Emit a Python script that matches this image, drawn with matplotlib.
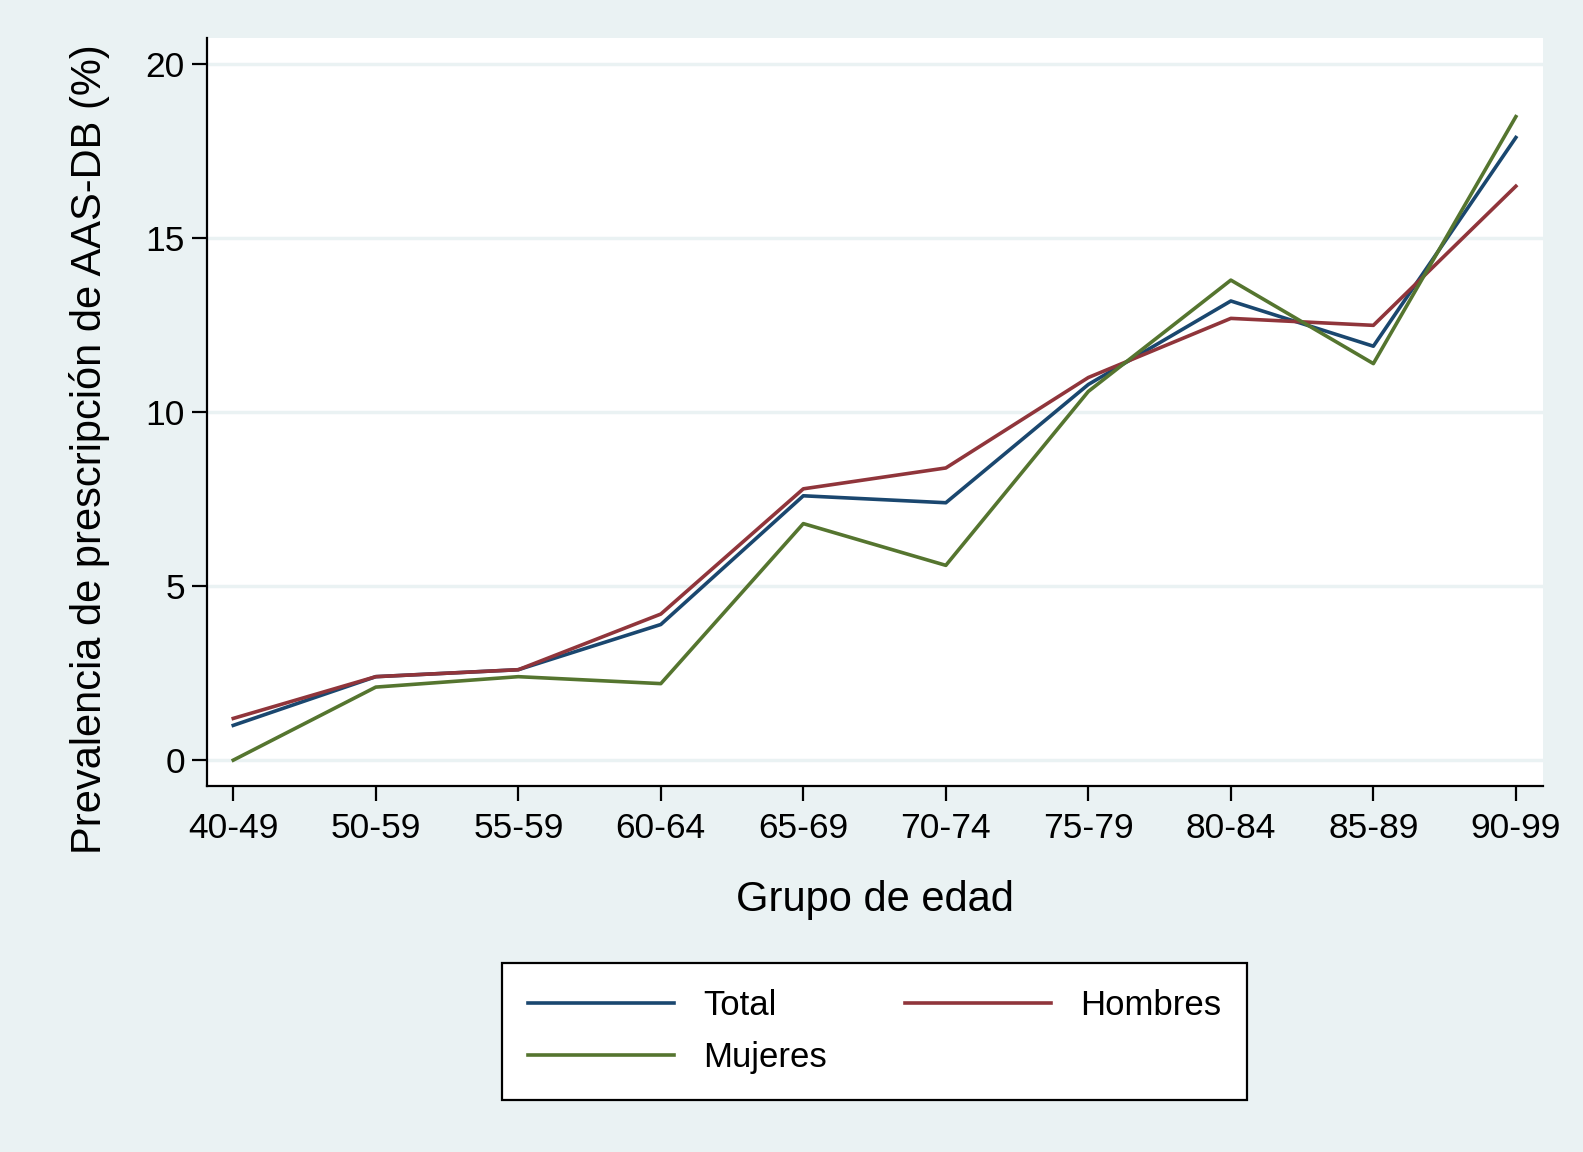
import matplotlib.pyplot as plt
import numpy as np

# datos
grupos = ["40-49", "50-59", "55-59", "60-64", "65-69", "70-74", "75-79", "80-84", "85-89", "90-99"]
total = [1.0, 2.4, 2.6, 3.9, 7.6, 7.4, 10.8, 13.2, 11.9, 17.9]
hombres = [1.2, 2.4, 2.6, 4.2, 7.8, 8.4, 11.0, 12.7, 12.5, 16.5]
mujeres = [0.0, 2.1, 2.4, 2.2, 6.8, 5.6, 10.6, 13.8, 11.4, 18.5]
yticks = [0, 5, 10, 15, 20]

bg = "#EAF2F3"
c_total = "#1A476F"
c_hombres = "#90353B"
c_mujeres = "#55752F"

plt.rcParams['font.family'] = ['Liberation Sans', 'DejaVu Sans']

fig = plt.figure(figsize=(15.83, 11.52), dpi=100, facecolor=bg)
ax = fig.add_axes([0.1308, 0.3181, 0.8439, 0.6486])
ax.set_facecolor("white")

x = np.arange(len(grupos))
l1, = ax.plot(x, total, color=c_total, lw=2.6, label="Total")
l2, = ax.plot(x, hombres, color=c_hombres, lw=2.6, label="Hombres")
l3, = ax.plot(x, mujeres, color=c_mujeres, lw=2.6, label="Mujeres")

ax.set_xlim(-0.184, 9.19)
ax.set_ylim(-0.73, 20.75)
ax.set_xticks(x)
ax.set_xticklabels(grupos)
ax.set_yticks(yticks)
ax.yaxis.grid(True, color=bg, lw=2.5)
ax.set_axisbelow(True)

for s in ["top", "right"]:
    ax.spines[s].set_visible(False)
for s in ["left", "bottom"]:
    ax.spines[s].set_linewidth(1.6)
    ax.spines[s].set_color("black")

ax.tick_params(axis="both", labelsize=25.5, length=11, width=1.6)
ax.tick_params(axis="x", pad=8)
ax.tick_params(axis="y", pad=5)

ax.set_xlabel("Grupo de edad", fontsize=30, labelpad=25)
ax.set_ylabel("Prevalencia de prescripción de AAS-DB (%)", fontsize=30)
ax.yaxis.set_label_coords(-0.0725, 0.4505)

leg = fig.legend([l1, l3, l2], ["Total", "Mujeres", "Hombres"], ncol=2,
                 loc="center", bbox_to_anchor=(0.5525, 0.1048), fontsize=25,
                 frameon=True, fancybox=False, framealpha=1, handlelength=4.2,
                 handletextpad=0.85, columnspacing=2.25, borderpad=0.75,
                 labelspacing=0.55, edgecolor="black")
leg.get_frame().set_linewidth(1.6)
leg.get_frame().set_facecolor("white")

fig.savefig("out.png", dpi=100, facecolor=bg)
